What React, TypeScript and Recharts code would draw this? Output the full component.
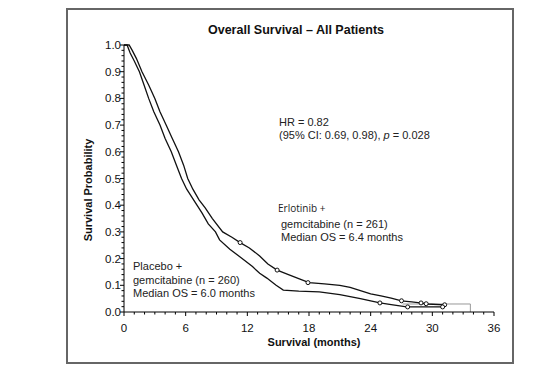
import { ComposedChart, Line, Scatter, XAxis, YAxis } from 'recharts'

// Kaplan-Meier estimates (months, survival probability)
const erlotinibCurve = [
  { t: 0, s: 1.0 },
  { t: 0.5, s: 1.0 },
  { t: 0.8, s: 0.98 },
  { t: 1.2, s: 0.95 },
  { t: 1.75, s: 0.9 },
  { t: 2.4, s: 0.85 },
  { t: 3.0, s: 0.8 },
  { t: 3.5, s: 0.75 },
  { t: 4.1, s: 0.7 },
  { t: 4.7, s: 0.65 },
  { t: 5.3, s: 0.6 },
  { t: 5.8, s: 0.55 },
  { t: 6.2, s: 0.5 },
  { t: 6.7, s: 0.46 },
  { t: 7.3, s: 0.42 },
  { t: 7.9, s: 0.39 },
  { t: 8.6, s: 0.35 },
  { t: 9.6, s: 0.3 },
  { t: 10.5, s: 0.28 },
  { t: 11.3, s: 0.26 },
  { t: 12.2, s: 0.24 },
  { t: 13.2, s: 0.21 },
  { t: 14.0, s: 0.18 },
  { t: 14.9, s: 0.157 },
  { t: 16.0, s: 0.14 },
  { t: 17.0, s: 0.125 },
  { t: 18.0, s: 0.11 },
  { t: 19.5, s: 0.105 },
  { t: 21.0, s: 0.1 },
  { t: 22.0, s: 0.092 },
  { t: 23.0, s: 0.08 },
  { t: 24.0, s: 0.068 },
  { t: 25.0, s: 0.06 },
  { t: 26.0, s: 0.052 },
  { t: 27.0, s: 0.042 },
  { t: 28.0, s: 0.038 },
  { t: 29.0, s: 0.033 },
  { t: 29.5, s: 0.03 },
  { t: 31.2, s: 0.027 },
]

const placeboCurve = [
  { t: 0, s: 1.0 },
  { t: 0.3, s: 1.0 },
  { t: 0.6, s: 0.97 },
  { t: 1.0, s: 0.94 },
  { t: 1.5, s: 0.9 },
  { t: 1.95, s: 0.85 },
  { t: 2.4, s: 0.8 },
  { t: 2.9, s: 0.75 },
  { t: 3.5, s: 0.7 },
  { t: 4.0, s: 0.65 },
  { t: 4.6, s: 0.6 },
  { t: 5.1, s: 0.55 },
  { t: 5.6, s: 0.5 },
  { t: 6.1, s: 0.46 },
  { t: 6.6, s: 0.43 },
  { t: 7.1, s: 0.4 },
  { t: 7.6, s: 0.37 },
  { t: 8.2, s: 0.33 },
  { t: 8.9, s: 0.3 },
  { t: 9.3, s: 0.27 },
  { t: 10.3, s: 0.235 },
  { t: 11.3, s: 0.206 },
  { t: 12.5, s: 0.17 },
  { t: 13.2, s: 0.145 },
  { t: 13.9, s: 0.127 },
  { t: 14.8, s: 0.1 },
  { t: 15.5, s: 0.082 },
  { t: 17.0, s: 0.078 },
  { t: 19.0, s: 0.075 },
  { t: 21.0, s: 0.065 },
  { t: 22.0, s: 0.058 },
  { t: 23.0, s: 0.05 },
  { t: 24.0, s: 0.042 },
  { t: 24.9, s: 0.034 },
  { t: 26.0, s: 0.028 },
  { t: 27.5, s: 0.019 },
  { t: 31.0, s: 0.019 },
]

// thin grey tail that runs on past the last event
const tailSegment = [
  { t: 27.1, s: 0.03 },
  { t: 33.7, s: 0.03 },
  { t: 33.7, s: 0 },
]

const erlotinibCensored = [
  { t: 11.3, s: 0.26 },
  { t: 14.9, s: 0.157 },
  { t: 17.9, s: 0.11 },
  { t: 27.0, s: 0.042 },
  { t: 28.9, s: 0.034 },
  { t: 29.4, s: 0.031 },
  { t: 31.2, s: 0.027 },
]

const placeboCensored = [
  { t: 24.9, s: 0.034 },
  { t: 27.6, s: 0.019 },
  { t: 31.0, s: 0.019 },
]

const xTicks = Array.from({ length: 37 }, (_, i) => i)
const yTicks = Array.from({ length: 51 }, (_, i) => i / 50)

const PLOT_LEFT = 124
const PLOT_BOTTOM = 312
const FONT = '"Liberation Sans", Arial, sans-serif'

const XTick = (props: any) => {
  const { x, payload } = props
  const v = payload.value
  const major = v % 6 === 0
  return (
    <g>
      <line x1={x} x2={x} y1={PLOT_BOTTOM} y2={PLOT_BOTTOM + (major ? 4 : 2.5)} stroke="#000" strokeWidth={1} />
      {major && (
        <text x={x} y={PLOT_BOTTOM + 20} textAnchor="middle" fontSize={11.5} fontFamily={FONT} fill="#111">
          {v}
        </text>
      )}
    </g>
  )
}

const YTick = (props: any) => {
  const { y, payload } = props
  const v = payload.value
  const major = Math.round(v * 50) % 5 === 0
  return (
    <g>
      <line x1={PLOT_LEFT} x2={PLOT_LEFT - (major ? 4 : 2.5)} y1={y} y2={y} stroke="#000" strokeWidth={1} />
      {major && (
        <text x={PLOT_LEFT - 3} y={y + 4} textAnchor="end" fontSize={11.5} fontFamily={FONT} fill="#111">
          {v.toFixed(1)}
        </text>
      )}
    </g>
  )
}

const CensorMark = (props: any) => (
  <circle cx={props.cx} cy={props.cy} r={2} fill="#fff" stroke="#111" strokeWidth={1} />
)

const note = (left: number, top: number, lineHeight: number): React.CSSProperties => ({
  position: 'absolute',
  left,
  top,
  lineHeight: `${lineHeight}px`,
  fontSize: 11,
  fontFamily: FONT,
  color: '#222',
  whiteSpace: 'nowrap',
})

export default function App() {
  return (
    <div style={{ position: 'absolute', left: 0, top: 0, width: 559, height: 380, background: '#fff' }}>
      <div
        style={{
          position: 'absolute',
          left: 66,
          top: 8,
          width: 448,
          height: 356,
          border: '2px solid #666',
          boxSizing: 'border-box',
        }}
      />
      <ComposedChart
        width={559}
        height={380}
        margin={{ top: 45, right: 65, bottom: 32, left: 64 }}
        style={{ position: 'absolute', left: 0, top: 0 }}
      >
        <XAxis
          type="number"
          dataKey="t"
          domain={[0, 36]}
          ticks={xTicks}
          interval={0}
          height={36}
          tickLine={false}
          axisLine={{ stroke: '#000' }}
          tick={XTick}
          allowDataOverflow
        />
        <YAxis
          type="number"
          dataKey="s"
          domain={[0, 1]}
          ticks={yTicks}
          interval={0}
          width={60}
          tickLine={false}
          axisLine={{ stroke: '#000' }}
          tick={YTick}
        />
        <Line data={tailSegment} dataKey="s" type="linear" stroke="#999" strokeWidth={1} dot={false} isAnimationActive={false} />
        <Line data={placeboCurve} dataKey="s" type="linear" stroke="#111" strokeWidth={1.3} dot={false} isAnimationActive={false} />
        <Line data={erlotinibCurve} dataKey="s" type="linear" stroke="#111" strokeWidth={1.3} dot={false} isAnimationActive={false} />
        <Scatter data={erlotinibCensored} dataKey="s" shape={CensorMark} isAnimationActive={false} />
        <Scatter data={placeboCensored} dataKey="s" shape={CensorMark} isAnimationActive={false} />
      </ComposedChart>

      <div style={{ position: 'absolute', left: 0, width: 592, top: 23, textAlign: 'center', fontFamily: FONT, fontSize: 12.5, fontWeight: 'bold', color: '#111' }}>
        Overall Survival – All Patients
      </div>
      <div style={{ position: 'absolute', left: 0, width: 628, top: 336, textAlign: 'center', fontFamily: FONT, fontSize: 11, fontWeight: 'bold', color: '#111' }}>
        Survival (months)
      </div>
      <div
        style={{
          position: 'absolute',
          left: 88,
          top: 190,
          transform: 'translate(-50%, -50%) rotate(-90deg)',
          fontFamily: FONT,
          fontSize: 11,
          fontWeight: 'bold',
          color: '#111',
          whiteSpace: 'nowrap',
        }}
      >
        Survival Probability
      </div>

      <div style={note(279, 115.5, 13)}>
        <div>HR = 0.82</div>
        <div>
          (95% CI: 0.69, 0.98), <i>p</i> = 0.028
        </div>
      </div>

      <div style={{ ...note(278, 202, 13), fontFamily: '"Open Sans", sans-serif', fontSize: 10 }}>Erlotinib +</div>
      <div style={note(281, 217.5, 13)}>
        <div>gemcitabine (n = 261)</div>
        <div>Median OS = 6.4 months</div>
      </div>

      <div style={note(133, 260, 13.5)}>
        <div>Placebo +</div>
        <div>gemcitabine (n = 260)</div>
        <div>Median OS = 6.0 months</div>
      </div>
    </div>
  )
}
